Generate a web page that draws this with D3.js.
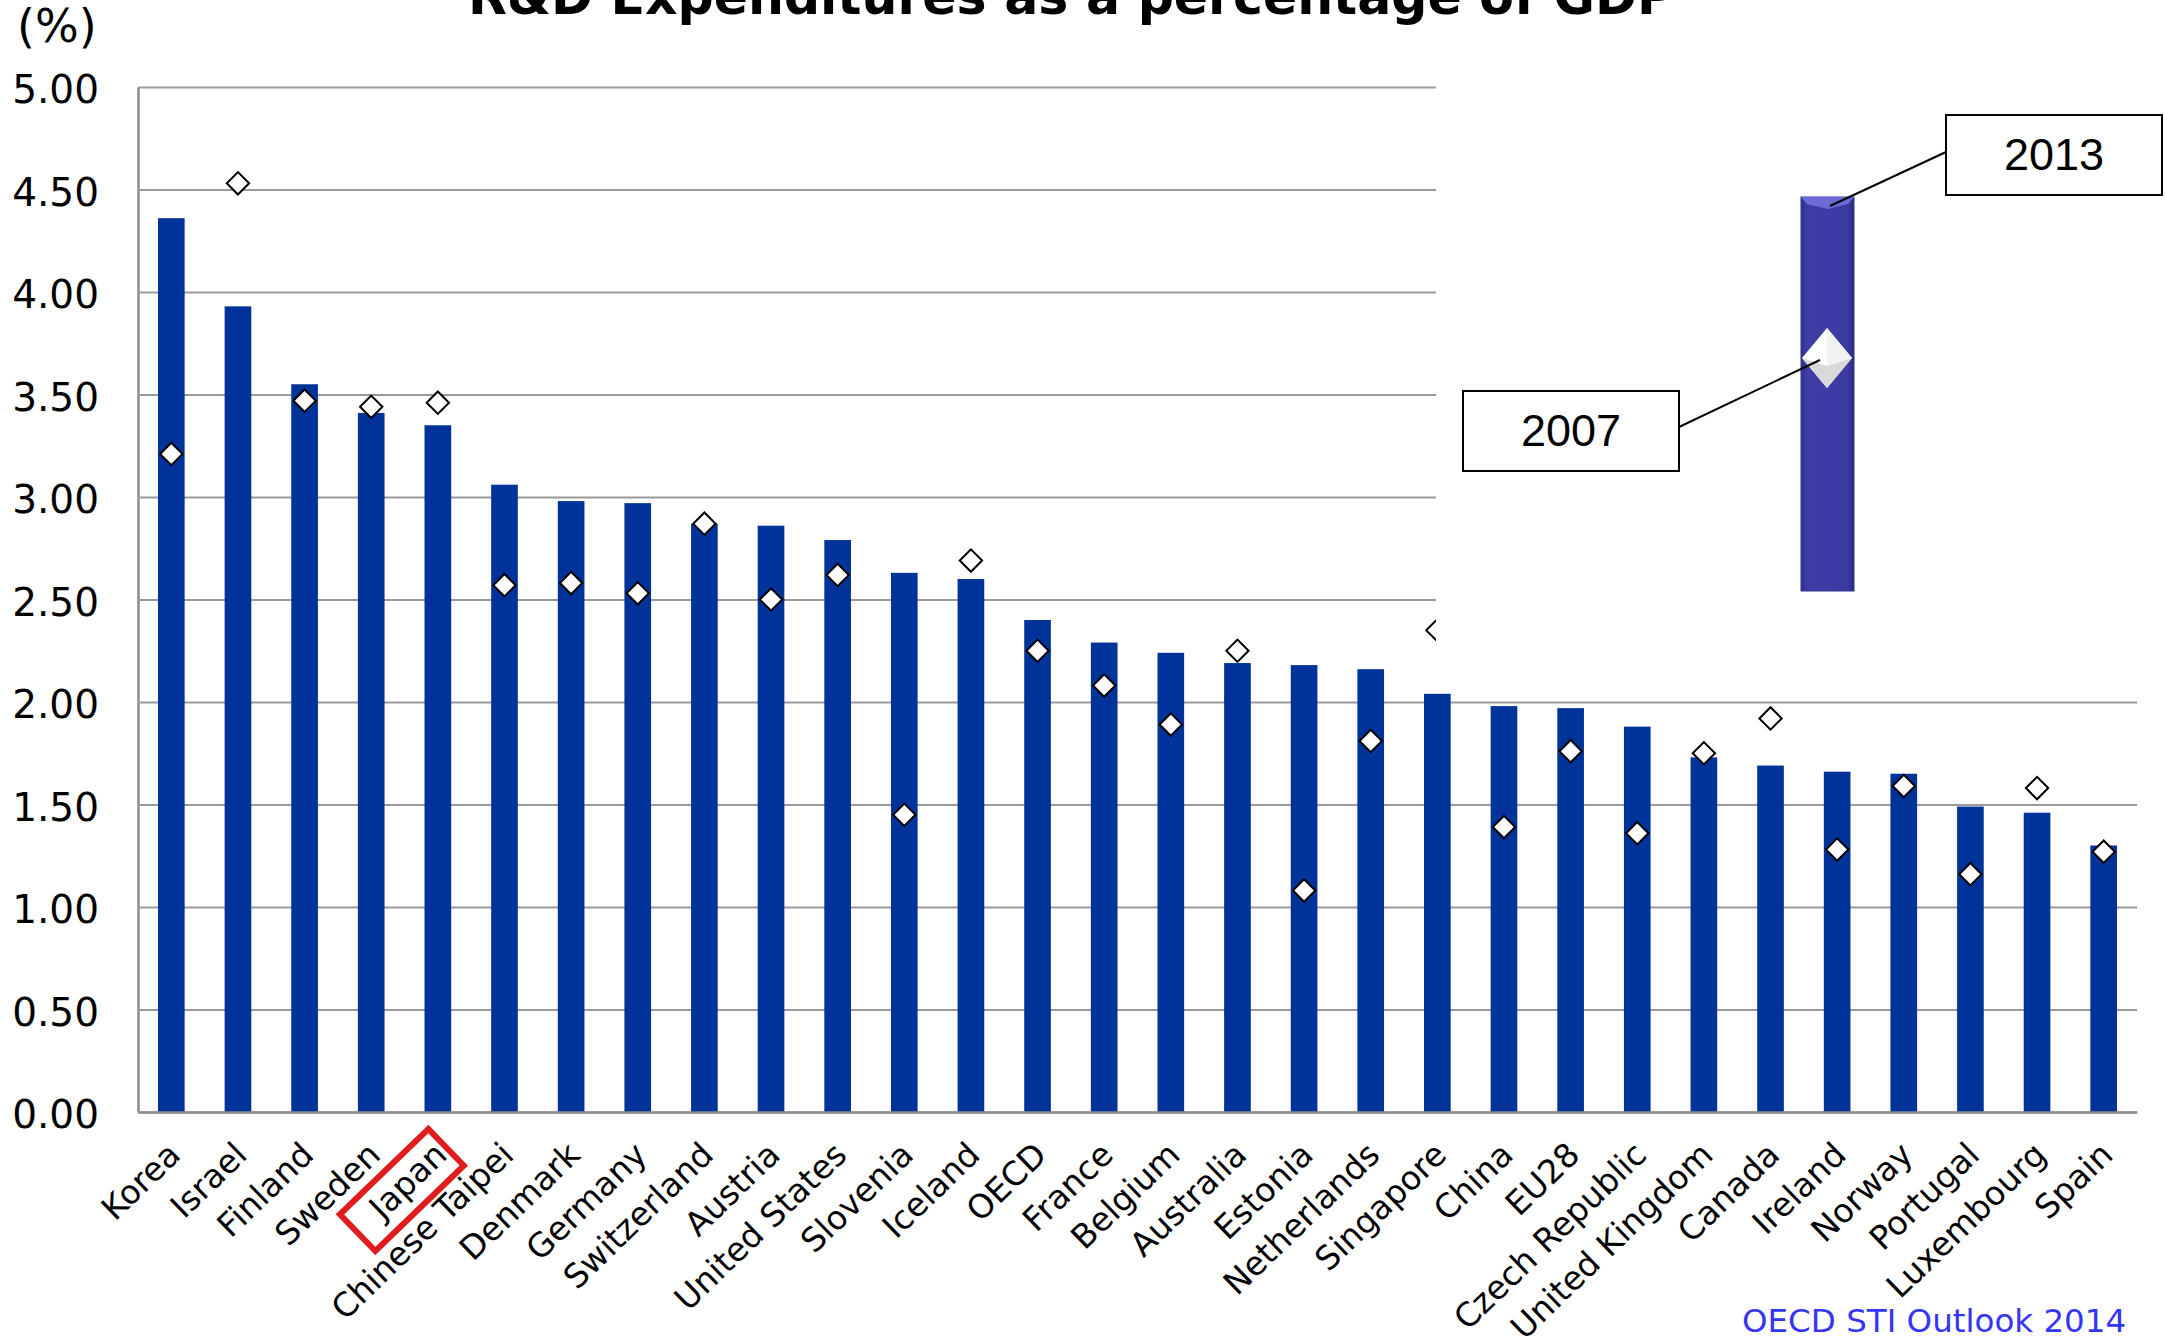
<!DOCTYPE html>
<html>
<head>
<meta charset="utf-8">
<script src="https://cdn.jsdelivr.net/npm/d3@7"></script>
<style>
  body { margin: 0; background: #fff; }
  svg { display: block; font-family: "DejaVu Sans", Verdana, sans-serif; }
</style>
</head>
<body>
<div id="chart"></div>
<script>
// R&D expenditures as % of GDP, 2013 (bars) and 2007 (diamonds)
const categories = ["Korea", "Israel", "Finland", "Sweden", "Japan", "Chinese Taipei", "Denmark", "Germany",
  "Switzerland", "Austria", "United States", "Slovenia", "Iceland", "OECD", "France", "Belgium", "Australia",
  "Estonia", "Netherlands", "Singapore", "China", "EU28", "Czech Republic", "United Kingdom", "Canada",
  "Ireland", "Norway", "Portugal", "Luxembourg", "Spain"]
const values2013 = [4.36, 3.93, 3.55, 3.41, 3.35, 3.06, 2.98, 2.97, 2.87, 2.86, 2.79, 2.63, 2.60, 2.40, 2.29,
  2.24, 2.19, 2.18, 2.16, 2.04, 1.98, 1.97, 1.88, 1.73, 1.69, 1.66, 1.65, 1.49, 1.46, 1.30]
const values2007 = [3.21, 4.53, 3.47, 3.44, 3.46, 2.57, 2.58, 2.53, 2.87, 2.50, 2.62, 1.45, 2.69, 2.25, 2.08,
  1.89, 2.25, 1.08, 1.81, 2.35, 1.39, 1.76, 1.36, 1.75, 1.92, 1.28, 1.59, 1.16, 1.58, 1.27]
const yTicks = [0, 0.5, 1, 1.5, 2, 2.5, 3, 3.5, 4, 4.5, 5]
const legendYears = ["2013", "2007"]
const highlight = "Japan"

const width = 2165, height = 1337
const margin = {top: 87, right: 28, bottom: 225, left: 138}
const plotW = width - margin.left - margin.right
const plotH = height - margin.top - margin.bottom

const rows = categories.map((c, i) => ({name: c, v13: values2013[i], v07: values2007[i]}))

const svg = d3.select("#chart").append("svg")
  .attr("width", width)
  .attr("height", height)

svg.append("rect").attr("width", width).attr("height", height).attr("fill", "#fff")

const defs = svg.append("defs")
const grad = defs.append("linearGradient").attr("id", "legendBar")
grad.append("stop").attr("offset", "0%").attr("stop-color", "#2f2f8e")
grad.append("stop").attr("offset", "12%").attr("stop-color", "#3d3da6")
grad.append("stop").attr("offset", "88%").attr("stop-color", "#3b3ba2")
grad.append("stop").attr("offset", "100%").attr("stop-color", "#2a2a84")

const g = svg.append("g")
  .attr("transform", "translate(" + margin.left + "," + margin.top + ")")

const x = d3.scaleBand().domain(categories).range([0, plotW]).paddingInner(0.6).paddingOuter(0.3)
const y = d3.scaleLinear().domain([0, 5]).range([plotH, 0])

// y axis with gridlines
const yAxis = g.append("g")
  .call(d3.axisLeft(y).tickValues(yTicks).tickFormat(d3.format(".2f"))
    .tickSize(-plotW).tickSizeOuter(0).tickPadding(39))
  .attr("font-family", null).attr("font-size", null)
yAxis.select(".domain").attr("stroke", "#8c8c8c").attr("stroke-width", 2.5)
yAxis.selectAll(".tick line").attr("stroke", "#9a9a9a").attr("stroke-width", 2)
yAxis.selectAll(".tick text").attr("font-size", 39).attr("fill", "#000").attr("dy", "0.4em")

// bars (2013)
g.selectAll("rect.bar").data(rows).join("rect")
  .attr("class", "bar")
  .attr("x", d => x(d.name))
  .attr("y", d => y(d.v13))
  .attr("width", x.bandwidth())
  .attr("height", d => plotH - y(d.v13))
  .attr("fill", "#003399")

// x axis
const xAxis = g.append("g")
  .attr("transform", "translate(0," + plotH + ")")
  .call(d3.axisBottom(x).tickSize(0).tickSizeOuter(0))
  .attr("font-family", null).attr("font-size", null)
xAxis.select(".domain").attr("stroke", "#8c8c8c").attr("stroke-width", 2.5)
xAxis.selectAll(".tick text")
  .attr("y", null).attr("dy", null)
  .attr("text-anchor", "end")
  .attr("transform", "translate(11,45) rotate(-44)")
  .attr("font-size", 33)
  .attr("fill", "#000")

// diamonds (2007)
g.selectAll("path.mark").data(rows).join("path")
  .attr("class", "mark")
  .attr("d", d3.symbol(d3.symbolSquare, 250))
  .attr("transform", d => "translate(" + (x(d.name) + x.bandwidth() / 2) + "," + y(d.v07) + ") rotate(45)")
  .attr("fill", "#fff")
  .attr("stroke", "#000")
  .attr("stroke-width", 2)

// red box round the Japan label
g.append("rect")
  .attr("x", -61.5).attr("y", -25.5)
  .attr("width", 123).attr("height", 51)
  .attr("transform", "translate(" + (x(highlight) + x.bandwidth() / 2 - 36) + "," + (plotH + 78) + ") rotate(-44)")
  .attr("fill", "none")
  .attr("stroke", "#e01c1c")
  .attr("stroke-width", 6)

// pasted legend picture, covers the upper right of the plot
const lg = svg.append("g")
lg.append("rect").attr("x", 1436).attr("y", 0).attr("width", 729).attr("height", 660).attr("fill", "#fff")
lg.append("rect").attr("x", 1801).attr("y", 197).attr("width", 53).attr("height", 394)
  .attr("fill", "url(#legendBar)").attr("stroke", "#34348f").attr("stroke-width", 1)
lg.append("polygon").attr("points", "1801,197 1854,197 1848,204 1828,209 1807,204")
  .attr("fill", "#6c6cd6")
lg.append("polygon").attr("points", "1827,328 1852,358 1827,388 1802,358").attr("fill", "#fff")
lg.append("polygon").attr("points", "1852,358 1827,388 1802,358 1827,366").attr("fill", "#d9d9d9")
lg.append("polygon").attr("points", "1827,328 1852,358 1827,366").attr("fill", "#f2f2f2")

const boxes = [
  {label: legendYears[0], x: 1946, y: 115, line: [[1946, 152], [1830, 206]]},
  {label: legendYears[1], x: 1463, y: 391, line: [[1679, 427], [1820, 360]]}
]
boxes.forEach(b => {
  lg.append("line")
    .attr("x1", b.line[0][0]).attr("y1", b.line[0][1])
    .attr("x2", b.line[1][0]).attr("y2", b.line[1][1])
    .attr("stroke", "#000").attr("stroke-width", 2)
  lg.append("rect").attr("x", b.x).attr("y", b.y).attr("width", 216).attr("height", 80)
    .attr("fill", "#fff").attr("stroke", "#000").attr("stroke-width", 2)
  lg.append("text").attr("x", b.x + 108).attr("y", b.y + 55)
    .attr("text-anchor", "middle")
    .attr("font-family", "'Liberation Sans', Arial, sans-serif")
    .attr("font-size", 45)
    .text(b.label)
})

// title, unit, source
svg.append("text")
  .attr("x", 468).attr("y", 14)
  .attr("font-weight", "bold")
  .attr("font-size", 51)
  .attr("textLength", 1206)
  .attr("lengthAdjust", "spacingAndGlyphs")
  .text("R&D Expenditures as a percentage of GDP")

svg.append("text")
  .attr("x", 17).attr("y", 42)
  .attr("font-size", 46)
  .text("(%)")

svg.append("text")
  .attr("x", 1742).attr("y", 1332)
  .attr("font-size", 32.5)
  .attr("fill", "#3535f5")
  .text("OECD STI Outlook 2014")

svg.append("text")
  .attr("x", 2162).attr("y", 1332)
  .attr("font-size", 32)
  .text("1")
</script>
</body>
</html>
